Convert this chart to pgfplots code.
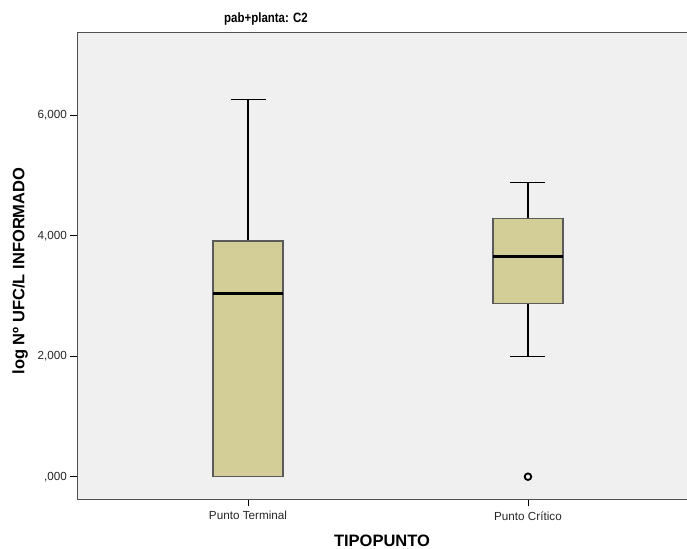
\documentclass[border=0pt]{standalone}
\usepackage{fontspec}
\setmainfont{Liberation Sans}
\usepackage{graphicx}
\usepackage{pgfplots}
\pgfplotsset{compat=1.18}
\usepgfplotslibrary{statistics}
\definecolor{bgGray}{RGB}{240,240,240}
\definecolor{boxFill}{RGB}{211,206,152}
\definecolor{boxEdge}{RGB}{90,90,90}
\definecolor{frameGray}{RGB}{80,80,80}
\begin{document}
\begin{tikzpicture}
\useasboundingbox (-77.5bp,-49.7bp) rectangle (609.5bp,499.3bp);
\begin{axis}[
  scale only axis,
  width=609.5bp, height=466.8bp,
  xmin=0.391, xmax=2.568,
  ymin=-0.375, ymax=7.373,
  axis background/.style={fill=bgGray},
  axis x line*=bottom, axis y line*=left,
  axis line style={-, frameGray, line width=1.3bp},
  tick align=outside,
  major tick length=7bp,
  tick style={black, line width=0.8bp},
  xtick={1,2},
  xticklabels={Punto Terminal, Punto Crítico},
  ytick={0,2,4,6},
  yticklabels={{,000},{2,000},{4,000},{6,000}},
  ticklabel style={font=\fontsize{11.7bp}{13bp}\selectfont, text=black!85},
  xticklabel style={inner sep=0pt, anchor=north, yshift=-5bp},
  yticklabel style={inner sep=0pt, anchor=east, xshift=-3.3bp},
  xlabel={TIPOPUNTO},
  ylabel={log Nº UFC/L INFORMADO},
  xlabel style={at={(axis description cs:0.4996,-0.0895)}, anchor=center, font=\fontsize{16.5bp}{18bp}\selectfont\bfseries},
  ylabel style={at={(axis description cs:-0.0943,0.489)}, anchor=center, font=\fontsize{16.5bp}{18bp}\selectfont\bfseries},
  title={\scalebox{0.85}[1]{pab+planta: C2}},
  title style={at={(axis description cs:0.3093,1.0311)}, anchor=center, yshift=-7bp, font=\fontsize{13.5bp}{15bp}\selectfont\bfseries},
  boxplot/draw direction=y,
  boxplot/every box/.style={fill=boxFill, draw=boxEdge, line width=1.2bp},
  boxplot/every median/.style={black, line width=2.6bp},
  boxplot/every whisker/.style={black, line width=1.3bp},
  clip=false,
]
\draw[frameGray, line width=1.3bp] (rel axis cs:0,1) -- (rel axis cs:1,1);
\addplot[boxplot prepared={lower whisker=0, lower quartile=0, median=3.037,
  upper quartile=3.912, upper whisker=6.264, draw position=1,
  box extend=0.25, whisker extend=0.125}] coordinates {};
\addplot[boxplot prepared={lower whisker=1.992, lower quartile=2.878, median=3.651,
  upper quartile=4.289, upper whisker=4.880, draw position=2,
  box extend=0.25, whisker extend=0.125},
  mark=o, mark size=3.3bp, mark options={black, line width=1.8bp}] coordinates {(0,0)};
\end{axis}
\end{tikzpicture}
\end{document}
